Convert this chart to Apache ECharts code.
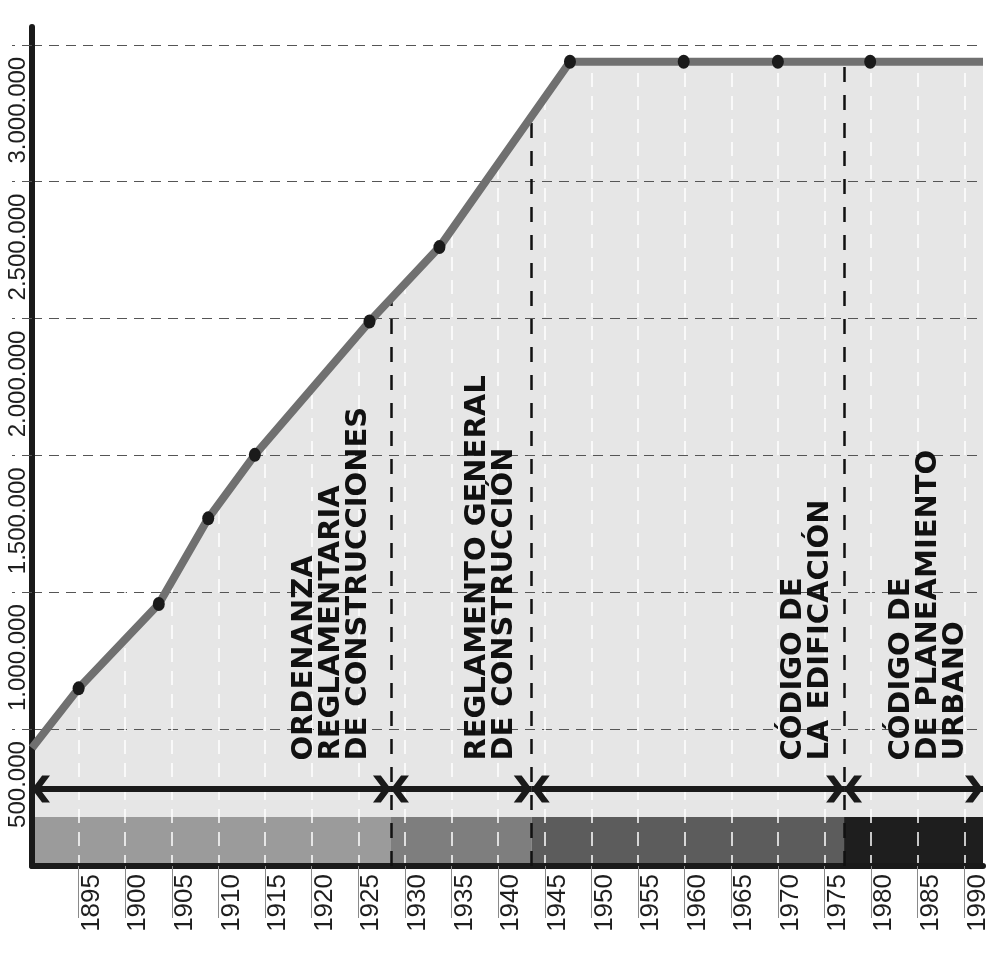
<!DOCTYPE html>
<html>
<head>
<meta charset="utf-8">
<script src="https://cdn.jsdelivr.net/npm/echarts@6/dist/echarts.min.js"></script>
<style>
html,body{margin:0;padding:0;background:#ffffff;}
#chart{width:1000px;height:968px;}
</style>
</head>
<body>
<div id="chart"></div>
<script>
// ---- data ----
const years = [1890, 1895, 1903.6, 1908.9, 1913.9, 1926.2, 1933.7, 1947.7, 1959.9, 1970, 1979.9, 1992];
const population = [431000, 649000, 957000, 1270000, 1502000, 1989000, 2261000, 2938000, 2938000, 2938000, 2938000, 2938000];
const tickYears = [1895, 1900, 1905, 1910, 1915, 1920, 1925, 1930, 1935, 1940, 1945, 1950, 1955, 1960, 1965, 1970, 1975, 1980, 1985, 1990];
const yTickValues = [500000, 1000000, 1500000, 2000000, 2500000, 3000000];
const codeBoundaries = [1890, 1928.5, 1943.6, 1977.1, 1992];
const codeNames = [
  'ORDENANZA\nREGLAMENTARIA\nDE CONSTRUCCIONES',
  'REGLAMENTO GENERAL\nDE CONSTRUCCIÓN',
  'CÓDIGO DE\nLA EDIFICACIÓN',
  'CÓDIGO DE\nDE PLANEAMIENTO\nURBANO'
];

// ---- layout / style (not data) ----
const bandColors = ['#9b9b9b', '#7e7e7e', '#5c5c5c', '#1e1e1e'];
const bandTop = 179000;
const arrowLevel = 281000;
const labelCenters = [1922.1, 1939.2, 1973.1, 1986.2];
const labelBase = 385000;
const chevron = 'path://M12.5 0 L25 9 L25 16 L12.5 7 L0 16 L0 9 Z';
const chevronSize = [27, 18];

function fmt(v) { return String(v).replace(/\B(?=(\d{3})+(?!\d))/g, '.'); }
function lineValueAt(x) {
  for (let i = 0; i < years.length - 1; i++) {
    if (x >= years[i] && x <= years[i + 1]) {
      const t = (x - years[i]) / (years[i + 1] - years[i]);
      return population[i] + t * (population[i + 1] - population[i]);
    }
  }
  return population[population.length - 1];
}

const seriesPoints = years.map((y, i) => [y, population[i]]);
const markedPoints = seriesPoints.map((p, i) =>
  (i === 0 || i === seriesPoints.length - 1) ? { value: p, symbol: 'none' } : { value: p });

const bandAreas = [];
const arrowLines = [];
for (let i = 0; i < codeBoundaries.length - 1; i++) {
  bandAreas.push([
    { xAxis: codeBoundaries[i], yAxis: 0, itemStyle: { color: bandColors[i] } },
    { xAxis: codeBoundaries[i + 1], yAxis: bandTop }
  ]);
  arrowLines.push([
    { coord: [codeBoundaries[i], arrowLevel], symbol: chevron, symbolSize: chevronSize, symbolOffset: [0, chevronSize[1] / 2] },
    { coord: [codeBoundaries[i + 1], arrowLevel], symbol: chevron, symbolSize: chevronSize, symbolOffset: [0, chevronSize[1] / 2] }
  ]);
}
const boundaryLines = codeBoundaries.slice(1, -1).map(b => [
  { coord: [b, 0] },
  { coord: [b, lineValueAt(b)] }
]);
const textMarks = codeNames.map((name, i) => ({
  coord: [labelCenters[i], labelBase],
  label: { formatter: name }
}));

const chart = echarts.init(document.getElementById('chart'), null, { renderer: 'canvas' });
chart.setOption({
  animation: false,
  backgroundColor: '#ffffff',
  grid: { left: 32, right: 17, top: 27, bottom: 102, containLabel: false, outerBoundsMode: 'none' },
  xAxis: {
    type: 'value',
    min: 1890, max: 1992, interval: 5,
    z: 3,
    axisLine: { show: true, onZero: false, lineStyle: { color: '#1a1a1a', width: 6 } },
    axisTick: { show: true, customValues: tickYears, length: 52, lineStyle: { color: '#8a8a8a', width: 1 } },
    axisLabel: {
      show: true, customValues: tickYears,
      rotate: 90, align: 'right', verticalAlign: 'top', margin: 8,
      fontFamily: 'Liberation Sans', fontSize: 26, color: '#1e1e1e',
      formatter: v => String(v)
    },
    splitLine: { show: true,
      lineStyle: { color: '#ffffff', width: 1.5, type: [14, 9] } }
  },
  yAxis: {
    type: 'value',
    min: 0, max: 3065000, interval: 500000,
    z: 3,
    axisLine: { show: true, onZero: false, lineStyle: { color: '#1a1a1a', width: 6 } },
    axisTick: { show: true, customValues: yTickValues, length: 20, lineStyle: { color: '#555555', width: 1.2, type: [10, 7] } },
    axisLabel: {
      show: true, customValues: yTickValues,
      rotate: 90, align: 'right', verticalAlign: 'bottom', margin: 2,
      padding: [0, 12, 0, 0],
      fontFamily: 'Liberation Sans', fontSize: 24, color: '#1e1e1e',
      formatter: v => fmt(v)
    },
    splitLine: { show: true,
      lineStyle: { color: '#555555', width: 1.2, type: [10, 7] } }
  },
  series: [
    {
      name: 'area',
      type: 'line',
      z: 1,
      data: seriesPoints,
      symbol: 'none',
      lineStyle: { width: 0 },
      areaStyle: { color: '#e6e6e6', opacity: 1 },
      silent: true,
      markArea: {
        z: 2, silent: true,
        data: bandAreas
      },
      markLine: {
        z: 4, silent: true, symbol: ['none', 'none'],
        label: { show: false },
        lineStyle: { color: '#111111', width: 2.5, type: [15, 13] },
        data: boundaryLines
      },
      markPoint: {
        z: 4, silent: true,
        symbol: 'circle', symbolSize: 1,
        itemStyle: { color: 'rgba(0,0,0,0)' },
        label: {
          show: true, position: 'inside', rotate: 90,
          align: 'left', verticalAlign: 'middle',
          fontFamily: 'DejaVu Sans', fontWeight: 'bold', fontSize: 29, lineHeight: 27,
          color: '#111111'
        },
        data: textMarks
      }
    },
    {
      name: 'line',
      type: 'line',
      z: 5,
      data: markedPoints,
      showSymbol: true, showAllSymbol: true,
      symbol: 'circle', symbolSize: [12, 14],
      itemStyle: { color: '#1a1a1a' },
      lineStyle: { color: '#707070', width: 8 },
      silent: true,
      markLine: {
        z: 6, silent: true,
        label: { show: false },
        lineStyle: { color: '#1a1a1a', width: 6, type: 'solid' },
        itemStyle: { color: '#1a1a1a' },
        data: arrowLines
      }
    }
  ]
});
</script>
</body>
</html>
